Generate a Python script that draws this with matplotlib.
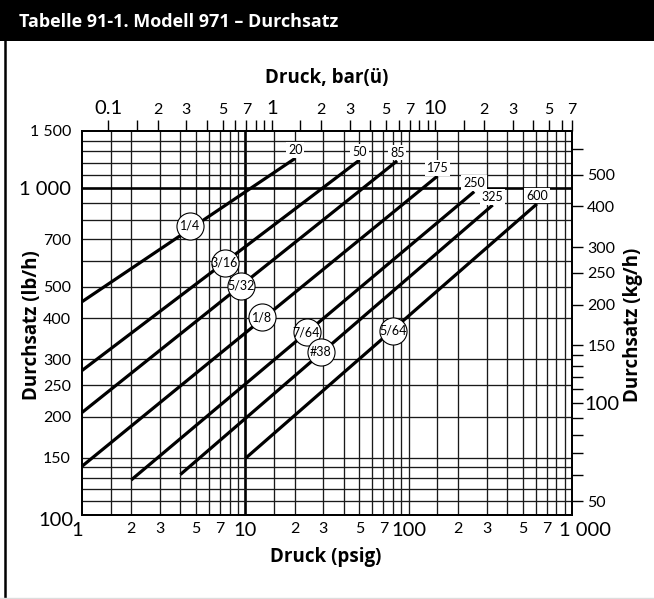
import matplotlib
matplotlib.use("Agg")
import matplotlib.pyplot as plt
import matplotlib.transforms as mtrans
import numpy as np
from matplotlib.patches import Rectangle
from matplotlib.lines import Line2D
from matplotlib.ticker import NullLocator

plt.rcParams['font.family'] = ['Lato', 'DejaVu Sans']
BOLD_FONT = ['Open Sans', 'DejaVu Sans']

# ---------------- data ----------------
orifice_labels = ["1/4", "3/16", "5/32", "1/8", "7/64", "#38", "5/64"]
max_psig_labels = ["20", "50", "85", "175", "250", "325", "600"]
line_start_psig = [1, 1, 1, 1, 2, 4, 10]
line_start_lbh = [450, 277, 206, 141, 128, 133, 149]
line_end_psig = [20.2, 50, 85, 150, 252, 327, 610]
line_end_lbh = [1237, 1222, 1215, 1091, 978, 890, 897]
circle_psig = [4.57, 7.46, 9.45, 12.6, 23.7, 29.0, 80.5]
circle_lbh = [769, 593, 503, 403, 363, 316, 367]

# bottom axis (psig)
psig_ticks = [1, 2, 3, 5, 7, 10, 20, 30, 50, 70, 100, 200, 300, 500, 700, 1000]
psig_ticklabels = ["1", "2", "3", "5", "7", "10", "2", "3", "5", "7", "100",
                   "2", "3", "5", "7", "1 000"]
psig_big = ["1", "10", "100", "1 000"]
psig_grid = [1.5, 2, 3, 4, 5, 6, 7, 8, 9, 15, 20, 30, 40, 50, 60, 70, 80, 90, 100,
             150, 200, 300, 400, 500, 600, 700, 800, 900]
psig_thick = [10]

# left axis (lb/h)
lbh_ticks = [100, 150, 200, 250, 300, 400, 500, 700, 1000, 1500]
lbh_ticklabels = ["100", "150", "200", "250", "300", "400", "500", "700", "1 000", "1 500"]
lbh_big = ["100", "1 000"]
lbh_grid = [110, 120, 130, 140, 150, 200, 250, 300, 400, 500, 600, 700, 800, 900,
            1100, 1200, 1300, 1400]
lbh_thick = [1000]

# top axis (bar)
bar_ticks = [0.1, 0.15, 0.2, 0.3, 0.4, 0.5, 0.6, 0.7, 0.8, 0.9,
             1, 1.5, 2, 3, 4, 5, 6, 7, 8, 9,
             10, 15, 20, 30, 40, 50, 60, 70]
bar_ticklabels = ["0.1", "", "2", "3", "", "5", "", "7", "", "",
                  "1", "", "2", "3", "", "5", "", "7", "", "",
                  "10", "", "2", "3", "", "5", "", "7"]
bar_big = ["0.1", "1", "10"]

# right axis (kg/h)
kgh_ticks = [50, 60, 70, 80, 90, 100, 110, 120, 130, 140, 150, 200, 250, 300, 400, 500, 600]
kgh_ticklabels = ["50", "", "", "", "", "100", "", "", "", "", "150", "200", "250",
                  "300", "400", "500", ""]
kgh_big = ["100"]

BAR_TO_PSI = 14.5038
LB_TO_KG = 0.45359
XMIN, XMAX = 1, 1000
YMIN, YMAX = 100, 1500

W, H = 654, 599
fig = plt.figure(figsize=(W / 100, H / 100), dpi=100)


def shift(text, dx_px, dy_px):
    text.set_transform(text.get_transform() +
                       mtrans.ScaledTranslation(dx_px / 100, dy_px / 100, fig.dpi_scale_trans))


# title bar and frame
fig.patches.append(Rectangle((0, 1 - 41 / H), 1, 41 / H, transform=fig.transFigure,
                             facecolor='black', edgecolor='none', zorder=0))
fig.lines.append(Line2D([5 / W, 5 / W], [0, 1 - 41 / H], transform=fig.transFigure,
                        color='black', lw=1.8))
fig.lines.append(Line2D([0, 1], [0.6 / H, 0.6 / H], transform=fig.transFigure,
                        color='#dddddd', lw=1))
fig.text(19 / W, 1 - 22 / H, "Tabelle 91-1. Modell 971 – Durchsatz", color='white',
         fontsize=13, fontweight='bold', ha='left', va='center', family=BOLD_FONT)

ax = fig.add_axes([82 / W, 84 / H, 490 / W, 384 / H])
ax.set_xscale('log')
ax.set_yscale('log')
ax.set_xlim(XMIN, XMAX)
ax.set_ylim(YMIN, YMAX)

grid_col = '#1a1a1a'
for v in psig_grid:
    ax.axvline(v, color=grid_col, lw=0.95, zorder=1)
for v in psig_thick:
    ax.axvline(v, color='black', lw=1.9, zorder=1)
for v in lbh_grid:
    ax.axhline(v, color=grid_col, lw=0.95, zorder=1)
for v in lbh_thick:
    ax.axhline(v, color='black', lw=1.9, zorder=1)

for sp in ax.spines.values():
    sp.set_linewidth(1.2)

# orifice lines
for i in range(len(orifice_labels)):
    ax.plot([line_start_psig[i], line_end_psig[i]], [line_start_lbh[i], line_end_lbh[i]],
            color='black', lw=2.3, solid_capstyle='butt', zorder=3, clip_on=False)
    ax.annotate(max_psig_labels[i], (line_end_psig[i], line_end_lbh[i]),
                xytext=(0, 6), textcoords='offset points', ha='center', va='center',
                fontsize=9, zorder=4,
                bbox=dict(boxstyle='square,pad=0.15', facecolor='white', edgecolor='none'))

# circles
ax.plot(circle_psig, circle_lbh, 'o', ms=19.5, mfc='white', mec='black', mew=0.8, zorder=5)
for lab, x, y in zip(orifice_labels, circle_psig, circle_lbh):
    ax.text(x, y, lab, ha='center', va='center', fontsize=9, zorder=6)

# bottom ticks
ax.xaxis.set_minor_locator(NullLocator())
ax.set_xticks(psig_ticks)
ax.set_xticklabels(psig_ticklabels)
ax.tick_params(axis='x', which='major', length=0, pad=5)
for t in ax.get_xticklabels():
    t.set_fontsize(14.5 if t.get_text() in psig_big else 11.5)
    if t.get_text() == "1":
        shift(t, -5, 0)
    if t.get_text() == "1 000":
        shift(t, 13, 0)

# left ticks
ax.yaxis.set_minor_locator(NullLocator())
ax.set_yticks(lbh_ticks)
ax.set_yticklabels(lbh_ticklabels)
ax.tick_params(axis='y', which='major', length=0, pad=8)
for t in ax.get_yticklabels():
    t.set_fontsize(14.5 if t.get_text() in lbh_big else 11.5)
    if t.get_text() == "100":
        shift(t, 3, -4)

# top axis (bar)
axt = ax.twiny()
axt.set_xscale('log')
axt.set_xlim(XMIN, XMAX)
axt.xaxis.set_minor_locator(NullLocator())
axt.set_xticks(np.minimum(np.array(bar_ticks) * BAR_TO_PSI, XMAX * 0.9995))
axt.set_xticklabels(bar_ticklabels)
axt.tick_params(axis='x', which='major', direction='out', length=8, width=1.0, pad=2)
for t in axt.get_xticklabels():
    t.set_fontsize(14.5 if t.get_text() in bar_big else 11.5)

# right axis (kg/h)
axr = ax.twinx()
axr.set_yscale('log')
axr.set_ylim(YMIN * LB_TO_KG, YMAX * LB_TO_KG)
axr.yaxis.set_minor_locator(NullLocator())
axr.set_yticks(kgh_ticks)
axr.set_yticklabels(kgh_ticklabels)
axr.tick_params(axis='y', which='major', direction='out', length=8, width=1.0, pad=3)
for t in axr.get_yticklabels():
    t.set_fontsize(14.5 if t.get_text() in kgh_big else 11.5)
    if t.get_text() == "100":
        shift(t, -3, 0)

for a in (axt, axr):
    for sp in a.spines.values():
        sp.set_linewidth(1.2)

# axis titles
fig.text(327 / W, 1 - 78 / H, "Druck, bar(ü)", ha='center', va='center',
         fontsize=13.5, fontweight='bold', family=BOLD_FONT)
fig.text(326 / W, 1 - 557 / H, "Druck (psig)", ha='center', va='center',
         fontsize=13.5, fontweight='bold', family=BOLD_FONT)
fig.text(32 / W, 1 - 325 / H, "Durchsatz (lb/h)", ha='center', va='center',
         fontsize=13.5, fontweight='bold', rotation=90, family=BOLD_FONT)
fig.text(633 / W, 1 - 325 / H, "Durchsatz (kg/h)", ha='center', va='center',
         fontsize=13.5, fontweight='bold', rotation=90, family=BOLD_FONT)

fig.savefig("out.png", dpi=100)
